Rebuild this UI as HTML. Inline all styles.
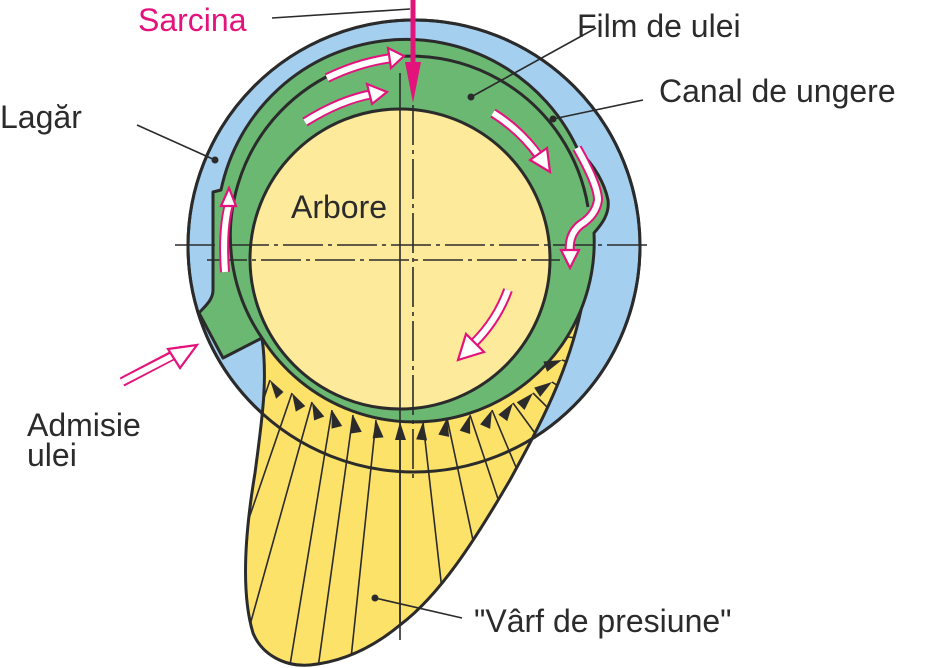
<!DOCTYPE html>
<html><head><meta charset="utf-8"><style>
html,body{margin:0;padding:0;background:#fff;}
svg{display:block;}
text{font-family:"Liberation Sans",sans-serif;font-size:32px;fill:#2b2b2b;}
</style></head><body>
<svg width="942" height="668" viewBox="0 0 942 668" xmlns="http://www.w3.org/2000/svg">
<defs>
<clipPath id="yc"><path d="M262,338 C268,380 262,420 255,473 C246,527 240,590 253,633 C262,655 285,667 310,665 C340,662 370,650 400,625 C440,595 475,540 510,480 C540,425 570,370 583,300 Z"/></clipPath>
</defs>
<circle cx="414" cy="246" r="226" fill="#a5cfee" stroke="#2b2b2b" stroke-width="3"/>
<path d="M262,338 C268,380 262,420 255,473 C246,527 240,590 253,633 C262,655 285,667 310,665 C340,662 370,650 400,625 C440,595 475,540 510,480 C540,425 570,370 583,300 Z" fill="#fde26a" stroke="#2b2b2b" stroke-width="3"/>
<g stroke="#2b2b2b" stroke-width="1.6" clip-path="url(#yc)">
<line x1="270" y1="380" x2="240" y2="470"/>
<line x1="292" y1="393" x2="245" y2="530"/>
<line x1="312" y1="402" x2="250" y2="625"/>
<line x1="332" y1="410" x2="290" y2="665"/>
<line x1="353" y1="415" x2="318" y2="668"/>
<line x1="376" y1="420" x2="350" y2="668"/>
<line x1="400" y1="422" x2="400" y2="640"/>
<line x1="423" y1="422" x2="442" y2="590"/>
<line x1="447" y1="418" x2="474" y2="545"/>
<line x1="470" y1="415" x2="500" y2="505"/>
<line x1="492" y1="410" x2="518" y2="472"/>
<line x1="513" y1="403" x2="540" y2="440"/>
<line x1="533" y1="393" x2="560" y2="420"/>
<line x1="552" y1="382" x2="580" y2="400"/>
<line x1="562" y1="360" x2="590" y2="370"/>
<line x1="568" y1="337" x2="595" y2="340"/>
</g>
<circle cx="414" cy="246" r="226" fill="none" stroke="#2b2b2b" stroke-width="3"/>
<!-- green: groove + bore -->
<path d="M262,338 L223,358 L199,313 C205,306 213,300 213,290 L213,192 L221,190 A189,189 0 0 1 578,150 C595,165 605,185 608,200 C610,215 600,226 594,233 A180,180 0 0 1 262,338 Z" fill="#6bb872" stroke="#2b2b2b" stroke-width="3" stroke-linejoin="round"/>
<!-- bore line -->
<path d="M262,338 A180,180 0 1 1 588,207" fill="none" stroke="#2b2b2b" stroke-width="3"/>
<!-- shaft -->
<circle cx="400" cy="259" r="150" fill="#feea9b" stroke="#2b2b2b" stroke-width="3"/>
<g fill="#2b2b2b">
<polygon points="270,380 262,398 272,398" transform="rotate(-42 270 380)"/>
<polygon points="292,393 286,411 297,411" transform="rotate(-30 292 393)"/>
<polygon points="312,402 307,420 318,420" transform="rotate(-22 312 402)"/>
<polygon points="332,410 327,428 338,428" transform="rotate(-14 332 410)"/>
<polygon points="353,415 348,433 359,433" transform="rotate(-9 353 415)"/>
<polygon points="376,420 371,438 382,438" transform="rotate(-5 376 420)"/>
<polygon points="400,422 395,440 406,440"/>
<polygon points="423,422 418,440 429,440" transform="rotate(6 423 422)"/>
<polygon points="447,418 442,436 453,436" transform="rotate(12 447 418)"/>
<polygon points="470,415 465,433 476,433" transform="rotate(18 470 415)"/>
<polygon points="492,410 487,428 498,428" transform="rotate(24 492 410)"/>
<polygon points="513,403 508,421 519,421" transform="rotate(36 513 403)"/>
<polygon points="533,393 528,411 539,411" transform="rotate(45 533 393)"/>
<polygon points="552,382 547,400 558,400" transform="rotate(57 552 382)"/>
<polygon points="562,360 557,378 568,378" transform="rotate(70 562 360)"/>
</g>
<g stroke="#2b2b2b" stroke-width="1.6" fill="none">
<line x1="175" y1="245" x2="652" y2="245" stroke-dasharray="40,5,4,5"/>
<line x1="207" y1="260" x2="560" y2="260" stroke-dasharray="40,5,4,5"/>
<line x1="400" y1="73" x2="400" y2="640"/>
<line x1="413" y1="105" x2="413" y2="483" stroke-dasharray="40,5,4,5"/>
</g>
<g fill="none" stroke-linecap="butt">
<g stroke="#e4137c" stroke-width="10">
<path d="M327,78 Q360,62 392,58"/>
<path d="M305,122 Q340,100 372,94"/>
<path d="M493,113 Q520,130 538,155"/>
<path d="M577,148 Q598,185 598,200 Q596,215 580,225 Q568,235 570,252"/>
<path d="M225,272 Q222,230 229,205"/>
<path d="M508,290 Q497,320 475,342"/>
<path d="M122,382 L183,350"/>
</g>
<g stroke="#fff" stroke-width="6">
<path d="M327,78 Q360,62 393,58"/>
<path d="M305,122 Q340,100 373,94"/>
<path d="M493,113 Q520,130 539,156"/>
<path d="M577,148 Q598,185 598,200 Q596,215 580,225 Q568,235 570,253"/>
<path d="M225,272 Q222,230 229,204"/>
<path d="M508,290 Q497,320 474,343"/>
<path d="M122,382 L184,350"/>
</g>
</g>
<g fill="#fff" stroke="#e4137c" stroke-width="2.2">
<polygon points="388,48 404,56 391,68"/>
<polygon points="367,84 387,92 372,104"/>
<polygon points="530,160 550,172 547,148"/>
<polygon points="561,250 570,268 579,250"/>
<polygon points="221,206 229,188 236,206"/>
<polygon points="466,334 458,360 484,352"/>
<polygon points="168,349 197,345 180,368"/>
</g>
<line x1="413" y1="0" x2="413" y2="68" stroke="#e4137c" stroke-width="5"/>
<polygon points="405,62 421,62 413,103" fill="#e4137c"/>
<g stroke="#2b2b2b" stroke-width="1.6">
<line x1="272" y1="18" x2="410" y2="9"/>
<line x1="596" y1="28" x2="471" y2="97"/>
<line x1="643" y1="100" x2="553" y2="119"/>
<line x1="137" y1="125" x2="215" y2="160"/>
<line x1="375" y1="598" x2="462" y2="618"/>
</g>
<g fill="#2b2b2b">
<circle cx="471" cy="97" r="3.5"/>
<circle cx="553" cy="119" r="3.5"/>
<circle cx="215" cy="160" r="3.5"/>
<circle cx="375" cy="598" r="3.5"/>
</g>
<text x="138" y="31" style="fill:#e4137c">Sarcina</text>
<text x="577" y="37">Film de ulei</text>
<text x="659" y="102">Canal de ungere</text>
<text x="0" y="128">Lagăr</text>
<text x="291" y="218">Arbore</text>
<text x="27" y="436">Admisie</text>
<text x="27" y="466">ulei</text>
<text x="474" y="632">"Vârf de presiune"</text>
</svg>
</body></html>
